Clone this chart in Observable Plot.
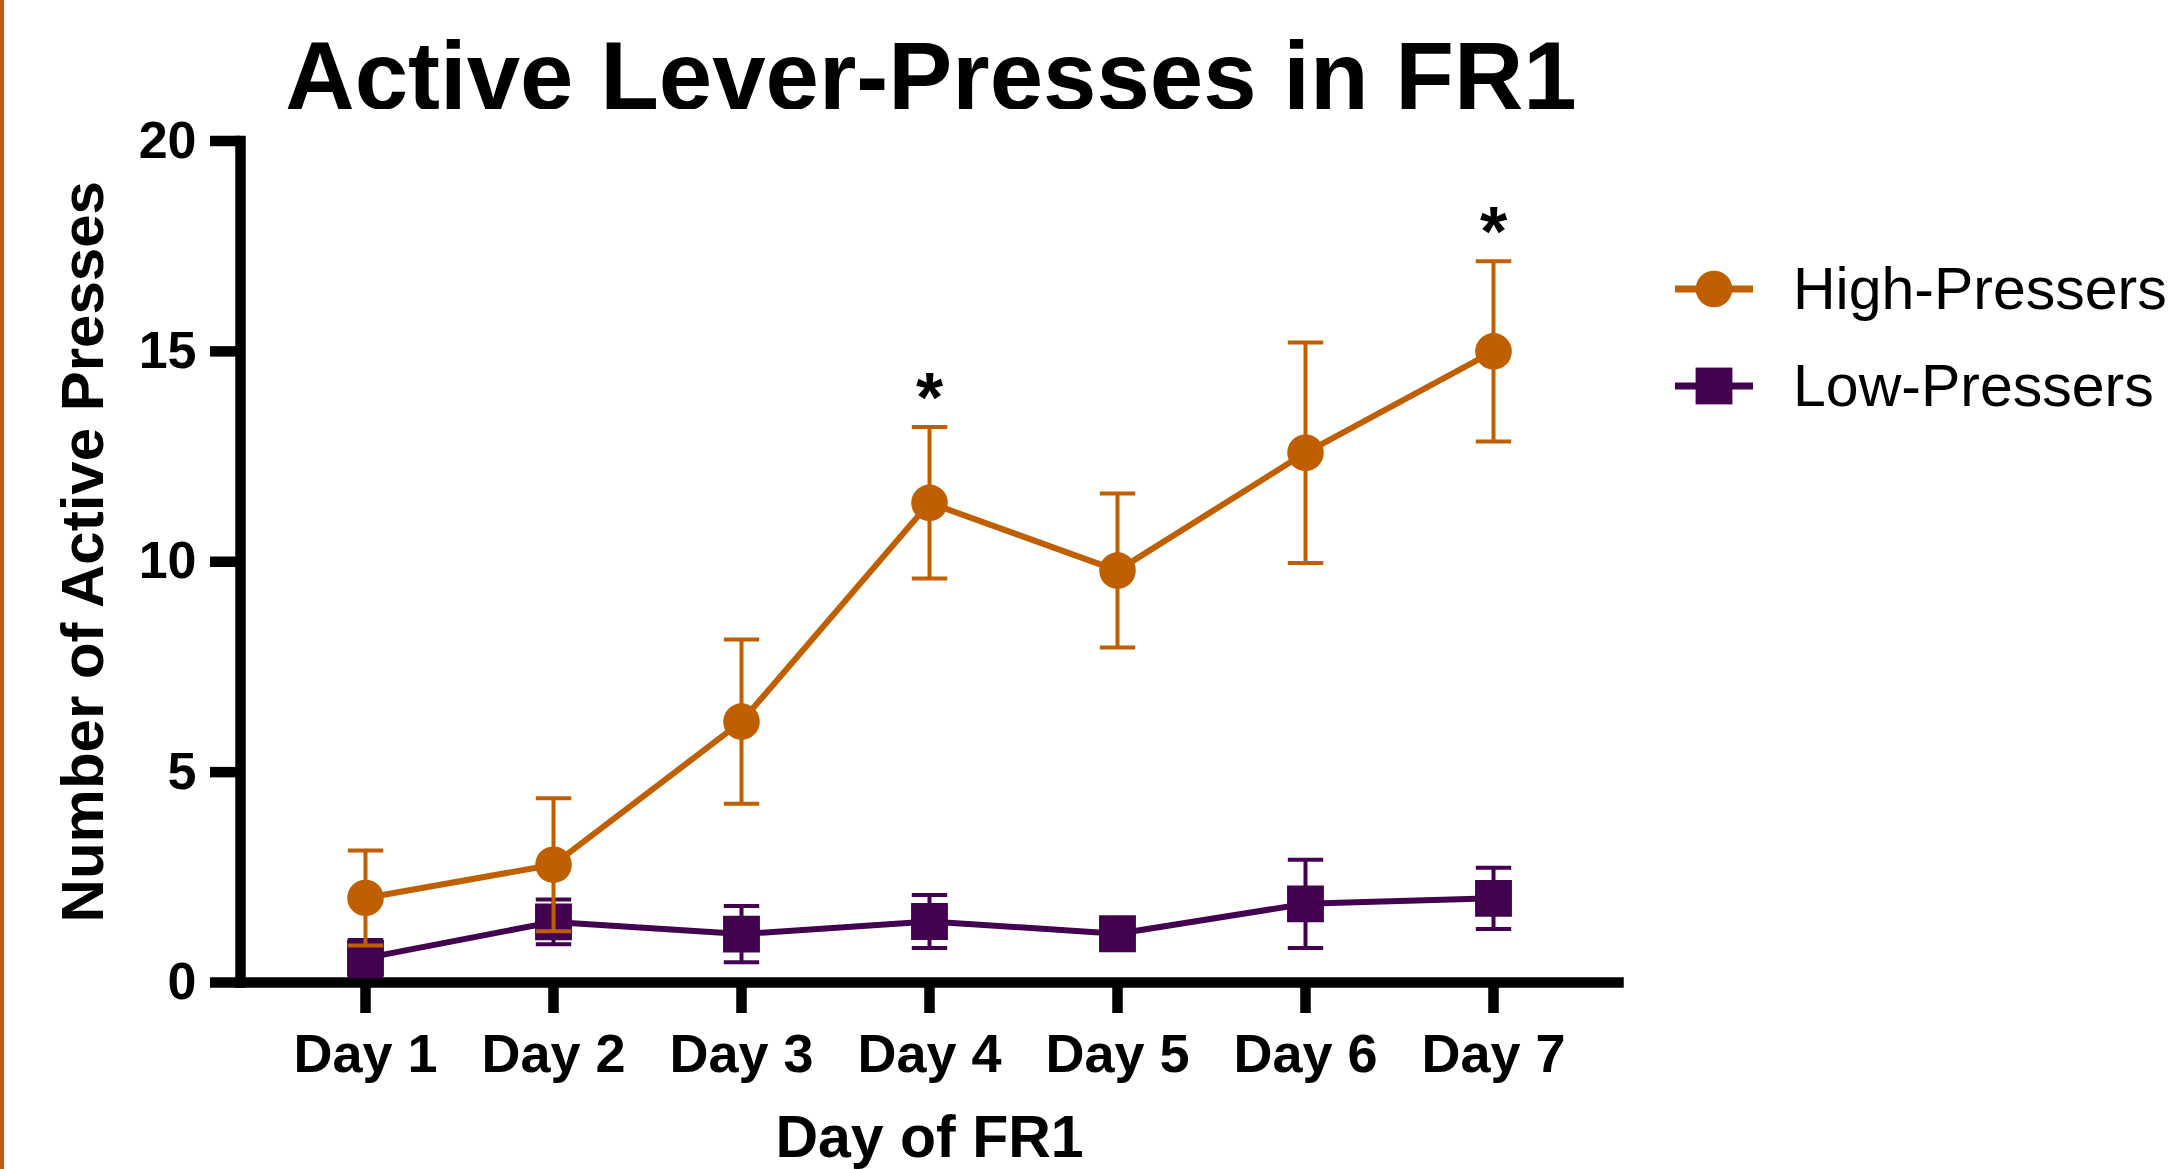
<!DOCTYPE html>
<html>
<head>
<meta charset="utf-8">
<script src="https://cdn.jsdelivr.net/npm/d3@7"></script>
<script src="https://cdn.jsdelivr.net/npm/@observablehq/plot@0.6"></script>
<style>
  html, body { margin: 0; padding: 0; background: #fff; }
  #wrap { position: relative; width: 2169px; height: 1169px; overflow: hidden; background: #fff;
          font-family: "Liberation Sans", Arial, sans-serif; color: #000; }
  #edge { position: absolute; left: 0; top: 0; width: 4px; height: 1169px; background: #C05A12; z-index: 5; }
  #title { width: 1862px; height: 109px; box-sizing: border-box; padding-top: 43px; text-align: center;
           font-weight: bold; font-size: 96px; line-height: 66px; white-space: nowrap; }
  #row { display: flex; flex-direction: row; align-items: flex-start; }
  #chart { width: 1660px; height: 1060px; flex: 0 0 1660px; }
  #legend { position: absolute; left: 1675px; top: 240px; }
  .item { display: flex; flex-direction: row; align-items: center; height: 97px; white-space: nowrap; }
  .item span { font-size: 59px; line-height: 60px; margin-left: 40px; }
</style>
</head>
<body>
<div id="wrap">
  <div id="edge"></div>
  <div id="title"></div>
  <div id="row"><div id="chart"></div></div>
  <div id="legend"></div>
</div>
<script>
// ---- data ----
const titleText = "Active Lever-Presses in FR1";
const xLabel = "Day of FR1";
const yLabel = "Number of Active Presses";
const days = ["Day 1", "Day 2", "Day 3", "Day 4", "Day 5", "Day 6", "Day 7"];
const groups = ["High-Pressers", "Low-Pressers"];
const colors = ["#C05F00", "#42024F"];
const symbols = ["circle", "square"];
const highMean = [2.01, 2.8, 6.2, 11.4, 9.79, 12.59, 15.0];
const highSem  = [1.13, 1.58, 1.95, 1.8, 1.83, 2.62, 2.14];
const lowMean  = [0.58, 1.44, 1.15, 1.45, 1.16, 1.87, 2.0];
const lowSem   = [0.43, 0.53, 0.67, 0.63, 0.3, 1.05, 0.73];
const significantDays = ["Day 4", "Day 7"];
const sigMark = "*";
const yTicks = [0, 5, 10, 15, 20];

// ---- tables ----
const means = [highMean, lowMean];
const sems = [highSem, lowSem];
const series = groups.map((g, i) => days.map((d, j) => ({group: g, day: d, mean: means[i][j], sem: sems[i][j]})));
const sigRows = series[0].filter(r => significantDays.includes(r.day));

document.getElementById("title").textContent = titleText;

const capSymbol = {
  draw(ctx, size) {
    const w = Math.sqrt(size / Math.PI);
    ctx.moveTo(-w, 0);
    ctx.lineTo(w, 0);
  }
};
const markerR = {circle: 18.3, square: 20.8};

function seriesMarks(i) {
  const data = series[i];
  const c = colors[i];
  return [
    Plot.ruleX(data, {x: "day", y1: d => d.mean - d.sem, y2: d => d.mean + d.sem, stroke: c, strokeWidth: 4}),
    Plot.dot(data, {x: "day", y: d => d.mean + d.sem, symbol: capSymbol, r: 17.7, stroke: c, strokeWidth: 4, fill: "none"}),
    Plot.dot(data, {x: "day", y: d => d.mean - d.sem, symbol: capSymbol, r: 17.7, stroke: c, strokeWidth: 4, fill: "none"}),
    Plot.line(data, {x: "day", y: "mean", stroke: c, strokeWidth: 6}),
    Plot.dot(data, {x: "day", y: "mean", symbol: symbols[i], r: markerR[symbols[i]], fill: c, stroke: "none"})
  ];
}

const chart = Plot.plot({
  width: 1660,
  height: 1060,
  marginTop: 31.5,
  marginBottom: 187,
  marginLeft: 240,
  marginRight: 42,
  style: {fontFamily: "'Liberation Sans', Arial, sans-serif", background: "white", color: "black"},
  x: {type: "point", domain: days, padding: 0.658},
  y: {domain: [0, 20]},
  marks: [
    Plot.axisY(yTicks, {tickSize: 30, tickPadding: 14, strokeWidth: 10.5, fontSize: 52, fontWeight: "bold", label: null}),
    Plot.axisX({tickSize: 31, tickPadding: 20, strokeWidth: 10.5, fontSize: 54, fontWeight: "bold", label: null}),
    Plot.frame({anchor: "left", strokeWidth: 10.5}),
    Plot.frame({anchor: "bottom", strokeWidth: 10.5}),
    ...seriesMarks(1),
    ...seriesMarks(0),
    Plot.text(sigRows, {x: "day", y: d => d.mean + d.sem, text: () => sigMark, dy: -28, fontSize: 70, fontWeight: "bold", lineAnchor: "middle", fill: "black"}),
    Plot.text([yLabel], {text: d => d, frameAnchor: "left", textAnchor: "middle", rotate: -90, lineAnchor: "top", dx: -180, dy: -10, fontSize: 60, fontWeight: "bold", fill: "black"}),
    Plot.text([xLabel], {text: d => d, frameAnchor: "bottom", textAnchor: "middle", lineAnchor: "top", dy: 133, fontSize: 59, fontWeight: "bold", fill: "black"})
  ]
});
document.getElementById("chart").appendChild(chart);

// ---- legend ----
const legend = d3.select("#legend");
groups.forEach((g, i) => {
  const item = legend.append("div").attr("class", "item");
  const sw = item.append("svg").attr("width", 78).attr("height", 40);
  sw.append("line").attr("x1", 0).attr("x2", 78).attr("y1", 20).attr("y2", 20)
    .attr("stroke", colors[i]).attr("stroke-width", 7);
  if (symbols[i] === "circle") {
    sw.append("circle").attr("cx", 39).attr("cy", 20).attr("r", 18.3).attr("fill", colors[i]);
  } else {
    sw.append("rect").attr("x", 39 - 18.4).attr("y", 20 - 18.4).attr("width", 36.8).attr("height", 36.8).attr("fill", colors[i]);
  }
  item.append("span").text(g);
});
</script>
</body>
</html>
